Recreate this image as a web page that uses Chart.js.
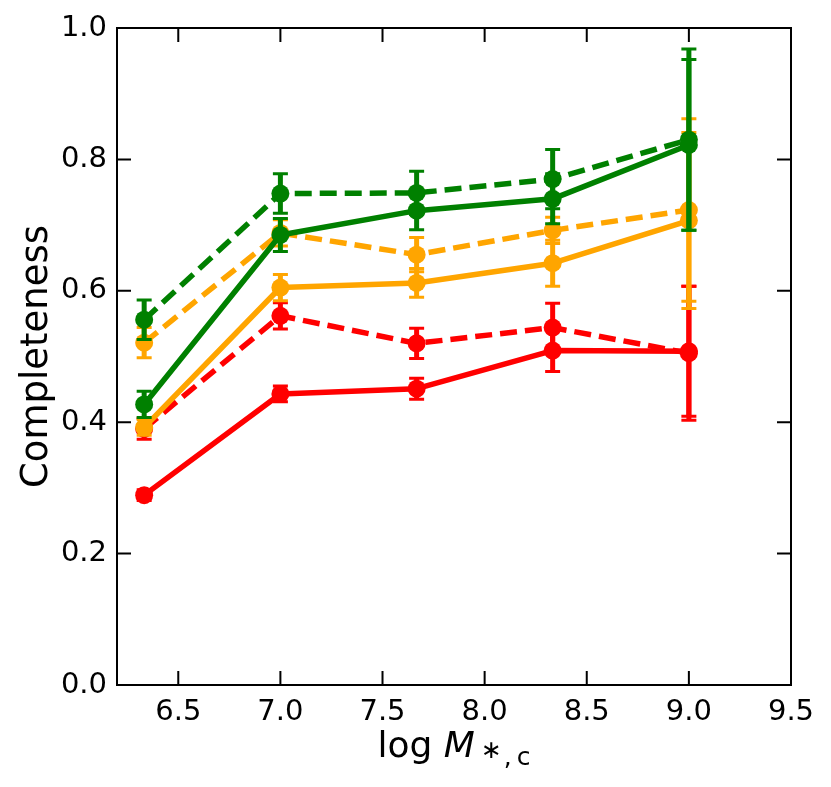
<!DOCTYPE html>
<html>
<head>
<meta charset="utf-8">
<script src="https://cdn.jsdelivr.net/npm/chart.js@4.4.1/dist/chart.umd.min.js"></script>
<style>
  html, body { margin: 0; padding: 0; background: #fff; }
  #wrap { width: 831px; height: 787px; position: relative; }
</style>
</head>
<body>
<div id="wrap"><canvas id="c"></canvas></div>
<script>
// ---- data ----
const xVals = [6.333, 7.0, 7.667, 8.333, 9.0];
const xTicks = [6.5, 7.0, 7.5, 8.0, 8.5, 9.0, 9.5];
const yTicks = [0.0, 0.2, 0.4, 0.6, 0.8, 1.0];

const greenDashed    = [0.556, 0.748, 0.749, 0.770, 0.830];
const greenDashedErr = [0.030, 0.030, 0.033, 0.045, 0.138];
const greenSolid     = [0.427, 0.685, 0.722, 0.740, 0.822];
const greenSolidErr  = [0.020, 0.025, 0.029, 0.038, 0.130];
const orangeDashed    = [0.521, 0.688, 0.655, 0.692, 0.723];
const orangeDashedErr = [0.023, 0.020, 0.026, 0.020, 0.139];
const orangeSolid     = [0.392, 0.605, 0.612, 0.642, 0.707];
const orangeSolidErr  = [0.012, 0.020, 0.022, 0.035, 0.134];
const redDashed    = [0.390, 0.562, 0.520, 0.544, 0.505];
const redDashedErr = [0.016, 0.020, 0.023, 0.037, 0.102];
const redSolid     = [0.289, 0.443, 0.451, 0.509, 0.508];
const redSolidErr  = [0.008, 0.012, 0.016, 0.032, 0.099];

const GREEN = '#008000', ORANGE = '#FFA500', RED = '#FF0000';
const FONT = "'DejaVu Sans', 'Liberation Sans', sans-serif";

function mk(values, errs, color, dashed) {
  return {
    data: values.map((v, i) => ({ x: xVals[i], y: v })),
    err: errs,
    borderColor: color,
    backgroundColor: color,
    pointBackgroundColor: color,
    pointBorderWidth: 0,
    pointRadius: 9,
    pointHoverRadius: 9,
    borderWidth: 5.5,
    borderDash: dashed ? [17, 8] : [],
    borderJoinStyle: 'round',
    tension: 0,
    fill: false
  };
}

// first dataset is drawn on top
const datasets = [
  mk(greenDashed, greenDashedErr, GREEN, true),
  mk(greenSolid, greenSolidErr, GREEN, false),
  mk(orangeDashed, orangeDashedErr, ORANGE, true),
  mk(orangeSolid, orangeSolidErr, ORANGE, false),
  mk(redDashed, redDashedErr, RED, true),
  mk(redSolid, redSolidErr, RED, false)
];

const errorBars = {
  id: 'errorBars',
  beforeDatasetDraw(chart, args) {
    const ds = chart.data.datasets[args.index];
    const xs = chart.scales.x, ys = chart.scales.y;
    const ctx = chart.ctx;
    ctx.save();
    ctx.strokeStyle = ds.borderColor;
    ctx.setLineDash([]);
    ds.data.forEach((p, i) => {
      const e = ds.err[i];
      const px = xs.getPixelForValue(p.x);
      const yt = ys.getPixelForValue(p.y + e);
      const yb = ys.getPixelForValue(p.y - e);
      ctx.lineWidth = 5;
      ctx.lineCap = 'butt';
      ctx.beginPath();
      ctx.moveTo(px, yt); ctx.lineTo(px, yb);
      ctx.stroke();
      ctx.lineWidth = 3;
      ctx.beginPath();
      ctx.moveTo(px - 7.5, yt); ctx.lineTo(px + 7.5, yt);
      ctx.moveTo(px - 7.5, yb); ctx.lineTo(px + 7.5, yb);
      ctx.stroke();
    });
    ctx.restore();
  }
};

const frame = {
  id: 'frame',
  afterDatasetsDraw(chart) {
    const { ctx, chartArea: a } = chart;
    const xs = chart.scales.x, ys = chart.scales.y;
    const L = 14;
    ctx.save();
    ctx.setLineDash([]);
    ctx.strokeStyle = '#000';
    ctx.lineWidth = 2;
    ctx.beginPath();
    xTicks.forEach(v => {
      const px = xs.getPixelForValue(v);
      ctx.moveTo(px, a.bottom); ctx.lineTo(px, a.bottom - L);
      ctx.moveTo(px, a.top); ctx.lineTo(px, a.top + L);
    });
    yTicks.forEach(v => {
      const py = ys.getPixelForValue(v);
      ctx.moveTo(a.left, py); ctx.lineTo(a.left + L, py);
      ctx.moveTo(a.right, py); ctx.lineTo(a.right - L, py);
    });
    ctx.stroke();
    ctx.lineWidth = 2;
    ctx.strokeRect(a.left, a.top, a.right - a.left, a.bottom - a.top);
    ctx.restore();
  },
  afterDraw(chart) {
    const { ctx, chartArea: a } = chart;
    ctx.save();
    ctx.fillStyle = '#000';
    // y title
    ctx.font = '37px ' + FONT;
    ctx.textAlign = 'center';
    ctx.textBaseline = 'alphabetic';
    ctx.translate(47, (a.top + a.bottom) / 2);
    ctx.rotate(-Math.PI / 2);
    ctx.fillText('Completeness', 0, 0);
    ctx.restore();

    // x title: log M_{*,c}
    ctx.save();
    ctx.fillStyle = '#000';
    ctx.textAlign = 'left';
    ctx.textBaseline = 'alphabetic';
    const f1 = '36px ' + FONT, f2 = 'italic 36px ' + FONT, f3 = '25px ' + FONT;
    ctx.font = f1; const w1 = ctx.measureText('log ').width;
    ctx.font = f2; const w2 = ctx.measureText('M').width;
    ctx.font = f3;
    const wa = ctx.measureText('\u2217').width;
    const wb = ctx.measureText(',\u2009c').width;
    const total = w1 + w2 + 6 + wa + 2 + wb;
    let x0 = (a.left + a.right) / 2 - total / 2;
    const base = 757;
    ctx.font = f1; ctx.fillText('log ', x0, base); x0 += w1;
    ctx.font = f2; ctx.fillText('M', x0, base); x0 += w2 + 6;
    ctx.font = f3; ctx.fillText('\u2217', x0, base + 1); x0 += wa + 2;
    ctx.fillText(',\u2009c', x0, base + 8);
    ctx.restore();
  }
};

new Chart(document.getElementById('c'), {
  type: 'line',
  data: { datasets },
  options: {
    responsive: true,
    maintainAspectRatio: false,
    animation: false,
    events: [],
    layout: { padding: { left: 0, right: 40, top: 28, bottom: 0 } },
    plugins: { legend: { display: false }, tooltip: { enabled: false } },
    scales: {
      x: {
        type: 'linear',
        min: 6.2, max: 9.5,
        grid: { display: false, drawTicks: false },
        border: { display: false },
        afterBuildTicks: s => { s.ticks = xTicks.map(v => ({ value: v })); },
        afterFit: s => { s.height = 102; },
        ticks: {
          color: '#000', padding: 10, maxRotation: 0, autoSkip: false,
          font: { family: FONT, size: 29 },
          callback: v => Number(v).toFixed(1)
        }
      },
      y: {
        type: 'linear',
        min: 0, max: 1,
        grid: { display: false, drawTicks: false },
        border: { display: false },
        afterBuildTicks: s => { s.ticks = yTicks.map(v => ({ value: v })); },
        afterFit: s => { s.width = 117; },
        ticks: {
          color: '#000', padding: 10, autoSkip: false,
          font: { family: FONT, size: 29 },
          callback: v => Number(v).toFixed(1)
        }
      }
    }
  },
  plugins: [errorBars, frame]
});
</script>
</body>
</html>
